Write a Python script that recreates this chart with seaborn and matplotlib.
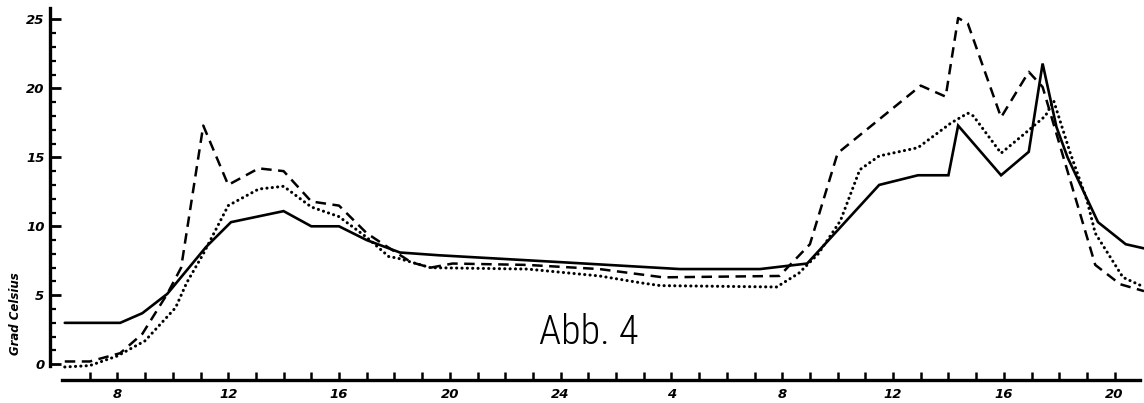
import matplotlib
matplotlib.use("Agg")
import matplotlib.pyplot as plt
import seaborn as sns
import pandas as pd
import numpy as np

# Hours on a continuous clock (day 1 06:00 .. day 2 21:00)
solid_t = [6.1, 8.1, 8.9, 9.8, 11.2, 12.1, 14.0, 15.0, 16.0, 17.0, 18.2, 19.6, 24.0,
           28.3, 31.2, 32.9, 35.5, 36.9, 38.0, 38.35, 39.9, 40.9, 41.4, 41.9, 42.3,
           43.4, 44.4, 45.06]
solid_v = [3.0, 3.0, 3.7, 5.1, 8.5, 10.3, 11.1, 10.0, 10.0, 9.0, 8.1, 7.9, 7.4,
           6.9, 6.9, 7.3, 13.0, 13.7, 13.7, 17.3, 13.7, 15.4, 21.8, 17.2, 15.0,
           10.3, 8.7, 8.4]

dashed_t = [6.1, 7.0, 8.1, 8.9, 9.8, 10.3, 11.1, 12.0, 13.1, 14.0, 15.0, 16.0, 17.0,
            17.6, 18.6, 19.3, 20.1, 22.8, 25.4, 27.7, 31.9, 33.0, 34.0, 37.0, 37.9,
            38.35, 38.7, 39.9, 40.9, 41.4, 43.3, 44.2, 45.06]
dashed_v = [0.2, 0.2, 0.8, 2.2, 5.1, 7.0, 17.3, 13.0, 14.2, 14.0, 11.8, 11.5, 9.5,
            8.7, 7.4, 7.0, 7.3, 7.2, 6.9, 6.3, 6.4, 8.7, 15.3, 20.2, 19.4,
            25.1, 24.7, 17.9, 21.2, 20.1, 7.2, 5.8, 5.3]

dotted_t = [6.1, 7.0, 8.0, 9.0, 10.1, 10.5, 11.1, 12.0, 13.1, 14.0, 15.0, 16.0, 17.0,
            17.8, 18.1, 19.3, 22.8, 25.4, 26.9, 27.6, 31.8, 32.6, 33.3, 34.1, 34.8,
            35.5, 36.9, 38.1, 38.7, 38.9, 39.9, 40.8, 41.5, 41.8, 42.4, 43.0, 43.3,
            44.3, 45.06]
dotted_v = [-0.2, -0.1, 0.6, 1.7, 4.1, 5.9, 8.0, 11.5, 12.7, 12.9, 11.4, 10.7, 9.2,
            7.8, 7.7, 7.0, 6.9, 6.4, 5.9, 5.7, 5.6, 6.6, 8.0, 10.4, 14.1,
            15.1, 15.7, 17.5, 18.2, 18.0, 15.3, 16.8, 18.0, 19.1, 15.3, 11.9, 9.5,
            6.3, 5.6]

tick_hours = [8, 12, 16, 20, 24, 28, 32, 36, 40, 44]
tick_labels = ["8", "12", "16", "20", "24", "4", "8", "12", "16", "20"]
y_ticks = [0, 5, 10, 15, 20, 25]

sns.set_theme(style="white")
plt.rcParams["font.family"] = ["DejaVu Sans"]

W, H = 1144, 403
fig = plt.figure(figsize=(W / 100, H / 100), dpi=100)
# axes box in pixel terms: left spine at x=50, bottom spine at y=380
ax = fig.add_axes([50 / W, (H - 380) / H, (W - 50) / W, (380 - 3) / H])

df_solid = pd.DataFrame({"t": solid_t, "v": solid_v})
df_dash = pd.DataFrame({"t": dashed_t, "v": dashed_v})
df_dot = pd.DataFrame({"t": dotted_t, "v": dotted_v})

sns.lineplot(data=df_solid, x="t", y="v", ax=ax, color="black", lw=1.9,
             solid_joinstyle="miter", clip_on=False)
sns.lineplot(data=df_dash, x="t", y="v", ax=ax, color="black", lw=1.8,
             dashes=(4.2, 2.6), clip_on=False)
sns.lineplot(data=df_dot, x="t", y="v", ax=ax, color="black", lw=2.2,
             linestyle=(0, (0.05, 1.7)), dash_capstyle="round", clip_on=False)

x_left = 6 - 12 / 27.7
ax.set_xlim(x_left, 45.06)
ax.set_ylim(-15 / 13.72 - 0.05, (363 - 3) / 13.72 - 0.05)

for s in ["top", "right"]:
    ax.spines[s].set_visible(False)
for s in ["bottom", "left"]:
    ax.spines[s].set_linewidth(2.4)
    ax.spines[s].set_color("black")
ax.spines["bottom"].set_bounds(6, 44.9)
ax.spines["left"].set_bounds(-0.1, 25.8)

ax.set_xticks(tick_hours)
ax.set_xticklabels(tick_labels)
ax.set_xticks(np.arange(7, 45, 1), minor=True)
ax.set_yticks(y_ticks)
ax.set_yticks(np.arange(0, 26, 1), minor=True)

ax.tick_params(axis="x", which="both", direction="in", length=6, width=1.8,
               color="black", pad=6, bottom=True)
ax.tick_params(axis="y", which="major", direction="in", length=8, width=2.0,
               color="black", pad=4, left=True)
ax.tick_params(axis="y", which="minor", direction="in", length=4, width=1.6,
               color="black", left=True)
for lab in ax.get_xticklabels() + ax.get_yticklabels():
    lab.set_fontsize(9.5)
    lab.set_fontweight("bold")
    lab.set_fontstyle("italic")
    lab.set_color("black")

ax.set_xlabel("")
ax.set_ylabel("")
ax.grid(False)

fig.text(16 / W, 1 - 314 / H, "Grad Celsius", rotation=90, ha="center",
         va="center", fontsize=8.5, fontstyle="italic", fontweight="bold",
         color="black")
fig.text(589 / W, 1 - 333 / H, "Abb. 4", ha="center", va="center",
         fontsize=29, fontweight="light",
         family=["Roboto Condensed", "Open Sans Condensed", "Roboto", "DejaVu Sans"],
         color="black")

fig.savefig("out.png", dpi=100, facecolor="white")
